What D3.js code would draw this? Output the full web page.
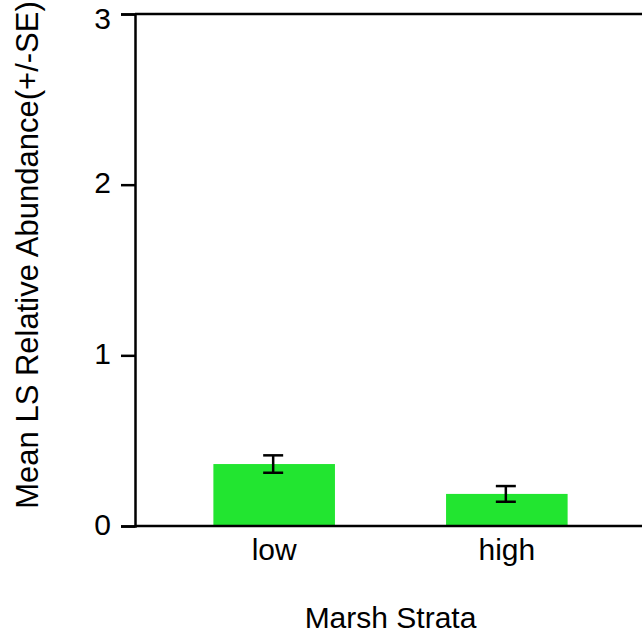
<!DOCTYPE html>
<html>
<head>
<meta charset="utf-8">
<script src="https://cdn.jsdelivr.net/npm/d3@7"></script>
<style>
  html, body { margin: 0; padding: 0; background: #fff; }
  svg { display: block; }
  text { font-family: "Liberation Sans", Arial, sans-serif; fill: #000; }
</style>
</head>
<body>
<script>
// Marsh strata and mean LS relative abundance with standard errors
const strata = ["low", "high"];
const means = [0.363, 0.188];
const stdErrors = [0.051, 0.046];
const yTicks = [0, 1, 2, 3];

const W = 642, H = 637;
const plot = { left: 135, right: 643, top: 14, bottom: 526 };

const svg = d3.select("body").append("svg")
  .attr("width", W).attr("height", H);

const x = d3.scaleBand()
  .domain(strata)
  .range([plot.left + 3, plot.right])
  .paddingInner(0.4775)
  .paddingOuter(0.324);

const y = d3.scaleLinear()
  .domain([0, 3])
  .range([plot.bottom, plot.top]);

const data = strata.map((s, i) => ({ s, m: means[i], se: stdErrors[i] }));

// bars
svg.append("g").selectAll("rect").data(data).join("rect")
  .attr("x", d => x(d.s))
  .attr("width", x.bandwidth())
  .attr("y", d => y(d.m))
  .attr("height", d => y(0) - y(d.m))
  .attr("fill", "#22e530");

// error bars
const eg = svg.append("g").attr("stroke", "#000").attr("stroke-width", 2.5);
const cap = 10;
data.forEach(d => {
  const cx = x(d.s) + x.bandwidth() / 2 - 1;
  eg.append("line").attr("x1", cx).attr("x2", cx)
    .attr("y1", y(d.m + d.se)).attr("y2", y(d.m - d.se));
  eg.append("line").attr("x1", cx - cap).attr("x2", cx + cap)
    .attr("y1", y(d.m + d.se)).attr("y2", y(d.m + d.se));
  eg.append("line").attr("x1", cx - cap).attr("x2", cx + cap)
    .attr("y1", y(d.m - d.se)).attr("y2", y(d.m - d.se));
});

// frame: top and bottom edges
svg.append("line")
  .attr("x1", plot.left).attr("x2", W)
  .attr("y1", y(3)).attr("y2", y(3))
  .attr("stroke", "#000").attr("stroke-width", 2.5);
svg.append("line")
  .attr("x1", plot.left).attr("x2", W)
  .attr("y1", y(0)).attr("y2", y(0))
  .attr("stroke", "#000").attr("stroke-width", 2.5);

// y axis
const yAxis = svg.append("g")
  .attr("transform", `translate(${plot.left},0)`)
  .call(d3.axisLeft(y).tickValues(yTicks).tickFormat(d3.format("d"))
    .tickSize(14).tickPadding(10));
yAxis.select(".domain").attr("stroke-width", 2.5);
yAxis.selectAll(".tick line").attr("stroke-width", 2.5);
yAxis.selectAll(".tick text")
  .attr("font-size", 30)
  .attr("font-family", "Liberation Sans, Arial, sans-serif")
  // the top label is nudged down so it stays inside the page
  .attr("dy", d => d === 3 ? "0.47em" : "0.27em");

// x axis labels
const xAxis = svg.append("g")
  .attr("transform", `translate(0,${plot.bottom})`)
  .call(d3.axisBottom(x).tickSize(0).tickPadding(13));
xAxis.select(".domain").remove();
xAxis.selectAll(".tick text")
  .attr("font-size", 30)
  .attr("font-family", "Liberation Sans, Arial, sans-serif")
  .attr("dy", "0.71em");

// titles
svg.append("text")
  .attr("x", (plot.left + W) / 2 + 2)
  .attr("y", 628)
  .attr("text-anchor", "middle")
  .attr("font-size", 30)
  .text("Marsh Strata");

svg.append("text")
  .attr("transform", `translate(38,255) rotate(-90)`)
  .attr("text-anchor", "middle")
  .attr("font-size", 31)
  .text("Mean LS Relative Abundance(+/-SE)");
</script>
</body>
</html>
